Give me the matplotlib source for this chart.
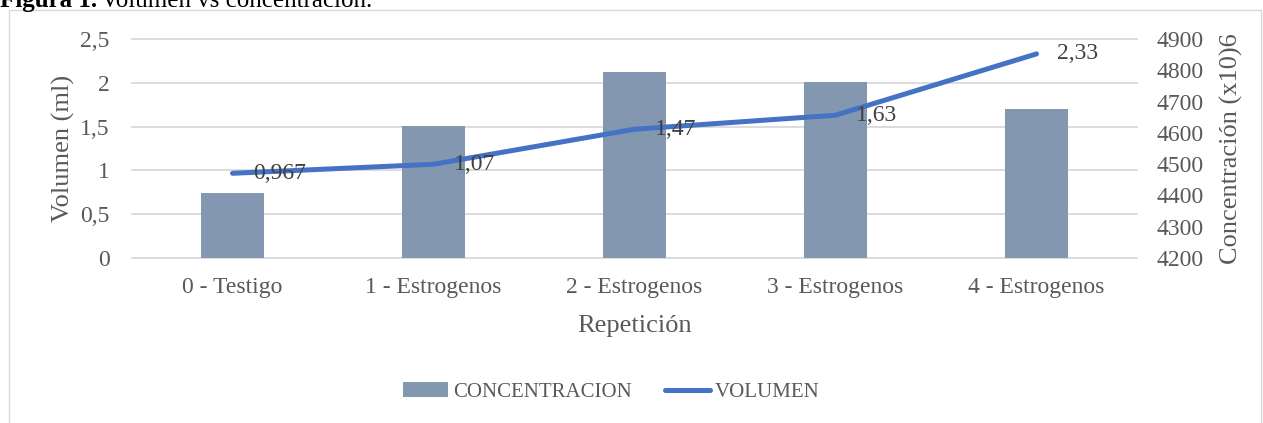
import numpy as np
import matplotlib.pyplot as plt
from matplotlib.ticker import FuncFormatter
from matplotlib.patches import Rectangle, Patch
from matplotlib.lines import Line2D

categorias = ['0 - Testigo', '1 - Estrogenos', '2 - Estrogenos', '3 - Estrogenos', '4 - Estrogenos']
concentracion = [4408, 4622, 4793, 4764, 4676]
volumen = [0.967, 1.07, 1.47, 1.63, 2.33]
etiquetas_vol = ['0,967', '1,07', '1,47', '1,63', '2,33']
ticks_vol = [0, 0.5, 1, 1.5, 2, 2.5]
ticks_conc = [4200, 4300, 4400, 4500, 4600, 4700, 4800, 4900]

plt.rcParams['font.family'] = ['Liberation Serif', 'DejaVu Serif']
gris_texto = '#595959'
gris_linea = '#D9D9D9'
color_barra = '#8497B0'
color_linea = '#4472C4'
fs = 17

W, H = 1263, 423
fig = plt.figure(figsize=(W / 100, H / 100), dpi=100)

# marco del grafico
fig.add_artist(Rectangle((9 / W, -0.01), (1261 - 9) / W, 1 - 10 / H + 0.01,
                         transform=fig.transFigure, fill=False,
                         edgecolor=gris_linea, lw=1))

# eje de barras (derecha)
ax = fig.add_axes([132 / W, 1 - 258 / H, (1137 - 132) / W, (258 - 39) / H])
axl = ax.twinx()

x = np.arange(len(categorias))
ax.bar(x, concentracion, width=0.31, color=color_barra, zorder=2)
ax.set_ylim(4200, 4900)
ax.set_yticks(ticks_conc)
ax.set_xlim(-0.5, len(categorias) - 0.5)
ax.yaxis.tick_right()
ax.yaxis.set_label_position('right')
ax.set_ylabel('Concentración (x10)6', fontsize=fs + 2, color=gris_texto, labelpad=12)
ax.tick_params(axis='y', length=0, pad=14, labelsize=fs, labelcolor=gris_texto)
ax.set_xticks(x)
ax.set_xticklabels(categorias)
ax.tick_params(axis='x', length=0, pad=14, labelsize=fs, labelcolor=gris_texto)
ax.set_xlabel('Repetición', fontsize=fs + 2, color=gris_texto, labelpad=12)
for s in ax.spines.values():
    s.set_visible(False)

# lineas de cuadricula segun el eje izquierdo, por detras de las barras
for t in ticks_vol:
    f = (t - ticks_vol[0]) / (ticks_vol[-1] - ticks_vol[0])
    ax.plot([0, 1], [f, f], transform=ax.transAxes, color=gris_linea, lw=1.3,
            zorder=1, clip_on=False)

# eje de la linea (izquierda)
axl.yaxis.tick_left()
axl.yaxis.set_label_position('left')
axl.plot(x, volumen, color=color_linea, lw=3.6, solid_capstyle='round')
axl.set_ylim(0, 2.5)
axl.set_yticks(ticks_vol)
axl.yaxis.set_major_formatter(FuncFormatter(lambda v, p: ('%g' % v).replace('.', ',')))
axl.tick_params(axis='y', length=0, pad=16, labelsize=fs, labelcolor=gris_texto)
axl.set_ylabel('Volumen (ml)', fontsize=fs + 2, color=gris_texto, labelpad=4)
for s in axl.spines.values():
    s.set_visible(False)
for xi, vi, lbl in zip(x, volumen, etiquetas_vol):
    axl.annotate(lbl, (xi, vi), xytext=(15, 0), textcoords='offset points',
                 ha='left', va='center', fontsize=fs, color='#404040')

# leyenda
handles = [Patch(facecolor=color_barra, edgecolor='none'),
           Line2D([], [], color=color_linea, lw=3.6, solid_capstyle='round')]
fig.legend(handles, ['CONCENTRACION', 'VOLUMEN'], loc='center',
           bbox_to_anchor=(0.484, 1 - 392 / H), ncol=2, frameon=False,
           fontsize=15, labelcolor=gris_texto, handlelength=2.15,
           handletextpad=0.25, columnspacing=1.6)

# titulo (cortado arriba)
t1 = fig.text(0, 1 - 7 / H, 'Figura 1.', fontsize=fs + 1, fontweight='bold',
              va='baseline', ha='left')
fig.canvas.draw()
x1 = t1.get_window_extent().x1
fig.text(x1 / W + 4 / W, 1 - 7 / H, 'Volumen vs concentración.', fontsize=fs + 1,
         va='baseline', ha='left')

fig.savefig('out.png', dpi=100)
